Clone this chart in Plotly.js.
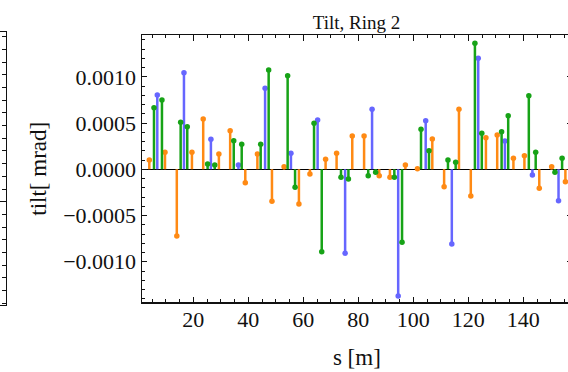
<!DOCTYPE html>
<html>
<head>
<meta charset="utf-8">
<script src="https://cdn.plot.ly/plotly-3.0.1.min.js"></script>
<style>
  html, body { margin: 0; padding: 0; overflow: hidden; background: #fff; }
  #chart { position: absolute; left: -100px; top: 0; width: 700px; height: 372px; }
</style>
</head>
<body>
<div id="chart"></div>
<script>
// Element tilts along Ring 2: position s [m] and tilt per element family
const sOrange = [4.0, 9.7, 14.0, 19.5, 23.6, 29.3, 33.4, 38.9, 43.3, 48.6, 53.0, 58.4, 62.4, 68.1, 72.1, 77.8,
                 82.1, 87.6, 91.5, 97.1, 101.5, 106.9, 111.2, 116.6, 120.9, 126.4, 130.5, 136.4, 140.4, 145.8, 150.3, 155.3];
const tiltOrange = [0.000101, 0.000184, -0.000721, 0.000184, 0.000544, 0.000165, 0.000417, -0.000145, 0.000165, -0.000346,
                    0.000028, -0.000375, -0.000051, 0.000108, 0.000173, 0.00036, 0.00036, -0.000069, -0.000086, 0.000046,
                    0.000005, 0.000328, -0.000188, 0.000649, -0.000289, 0.000342, 0.000371, 0.000119, 0.000147, -0.000205,
                    0.000028, -0.000134];

const sBlue = [6.9, 16.6, 26.4, 36.4, 46.1, 55.5, 65.2, 75.2, 85.0, 94.5, 104.5, 114.0, 123.6, 133.3, 143.3, 152.8];
const tiltBlue = [0.000803, 0.001044, 0.000324, 0.000046, 0.000876, 0.000173, 0.000533, -0.000908, 0.000649, -0.00137,
                  0.000525, -0.000808, 0.0012, 0.000306, -0.000062, -0.000339];

const sGreen = [5.7, 8.6, 15.4, 17.8, 25.2, 27.8, 34.7, 37.6, 44.5, 47.4, 54.3, 57.0, 63.9, 66.7, 73.7, 76.4,
                83.6, 86.3, 93.1, 95.9, 102.8, 105.7, 112.6, 115.4, 122.4, 124.9, 132.1, 134.5, 142.0, 144.5, 151.5, 154.1];
const tiltGreen = [0.000666, 0.000749, 0.000508, 0.000461, 0.000057, 0.000046, 0.000309, 0.00027, 0.00027, 0.001074,
                   0.001012, -0.000195, 0.000497, -0.000891, -0.000086, -0.000105, -0.000069, -0.000032, -0.000086, -0.000789,
                   0.000432, 0.000201, 0.000101, 0.000076, 0.001362, 0.000389, 0.000406, 0.000579, 0.000796, 0.000184,
                   -0.000032, 0.000119];

const series = [
  { s: sOrange, v: tiltOrange, color: '#FF8A14' },
  { s: sBlue,   v: tiltBlue,   color: '#6666FF' },
  { s: sGreen,  v: tiltGreen,  color: '#17A317' }
];

// Stem plot: a vertical line from the axis to each value, with a dot at the tip
const traces = [];
series.forEach(function (ser) {
  const xs = [], ys = [];
  ser.s.forEach(function (s, i) { xs.push(s, s, null); ys.push(0, ser.v[i], null); });
  traces.push({
    type: 'scatter', mode: 'lines', x: xs, y: ys, hoverinfo: 'skip',
    line: { color: ser.color, width: 2.5 }, showlegend: false, xaxis: 'x', yaxis: 'y'
  });
  traces.push({
    type: 'scatter', mode: 'markers', x: ser.s, y: ser.v,
    marker: { color: ser.color, size: 5.5 }, showlegend: false, xaxis: 'x', yaxis: 'y'
  });
});

// empty trace so the neighbouring panel's frame is drawn
traces.push({ type: 'scatter', mode: 'markers', x: [], y: [], xaxis: 'x2', yaxis: 'y2', showlegend: false });

const serif = 'Liberation Serif, Times New Roman, serif';
const ink = '#111';

const layout = {
  width: 700, height: 372,
  margin: { l: 0, r: 28, t: 32, b: 67 },
  paper_bgcolor: '#fff', plot_bgcolor: '#fff',
  showlegend: false,
  title: {
    text: 'Tilt, Ring 2',
    font: { family: serif, size: 19, color: ink },
    xref: 'paper', x: 0.6793, xanchor: 'center',
    yref: 'container', y: 0.94, yanchor: 'middle'
  },
  xaxis: {
    domain: [0.3597, 1], anchor: 'y',
    range: [1.24, 157.7],
    tick0: 0, dtick: 20,
    ticks: 'inside', ticklen: 5.5, tickwidth: 1, tickcolor: ink,
    minor: { tick0: 0, dtick: 5, ticks: 'inside', ticklen: 3, tickwidth: 1, tickcolor: ink },
    showline: true, linecolor: ink, linewidth: 1.2, mirror: 'ticks',
    showgrid: false, zeroline: false,
    tickfont: { family: serif, size: 22, color: ink },
    ticklabelstandoff: -3,
    title: { text: 's [m]', font: { family: serif, size: 23, color: ink }, standoff: 17 }
  },
  yaxis: {
    domain: [0.0092, 0.989], anchor: 'x',
    range: [-0.00144, 0.001452],
    tick0: 0, dtick: 0.0005, tickformat: '.4f',
    ticks: 'inside', ticklen: 5.5, tickwidth: 1, tickcolor: ink,
    minor: { tick0: 0, dtick: 0.0001, ticks: 'inside', ticklen: 3, tickwidth: 1, tickcolor: ink },
    showline: true, linecolor: ink, linewidth: 1.2, mirror: 'ticks',
    showgrid: false,
    zeroline: true, zerolinecolor: '#000', zerolinewidth: 1.6,
    tickfont: { family: serif, size: 22, color: ink },
    title: { text: 'tilt[ mrad]', font: { family: serif, size: 23, color: ink }, standoff: 10 }
  },
  // right edge of the neighbouring panel
  xaxis2: {
    domain: [0, 0.1577], anchor: 'y2', range: [0, 1],
    showline: true, linecolor: ink, linewidth: 1.2, mirror: true,
    ticks: '', showticklabels: false, showgrid: false, zeroline: false
  },
  yaxis2: {
    domain: [0, 1], anchor: 'x2', range: [0, 21.5],
    tick0: 8.13, dtick: 20,
    ticks: 'inside', ticklen: 6, tickwidth: 1, tickcolor: ink,
    minor: { tick0: 8.13, dtick: 1, ticks: 'inside', ticklen: 4, tickwidth: 1, tickcolor: ink },
    showline: true, linecolor: ink, linewidth: 1.2, mirror: 'ticks',
    showticklabels: false, showgrid: false, zeroline: false
  }
};

Plotly.newPlot('chart', traces, layout, { staticPlot: true, displayModeBar: false });
</script>
</body>
</html>
